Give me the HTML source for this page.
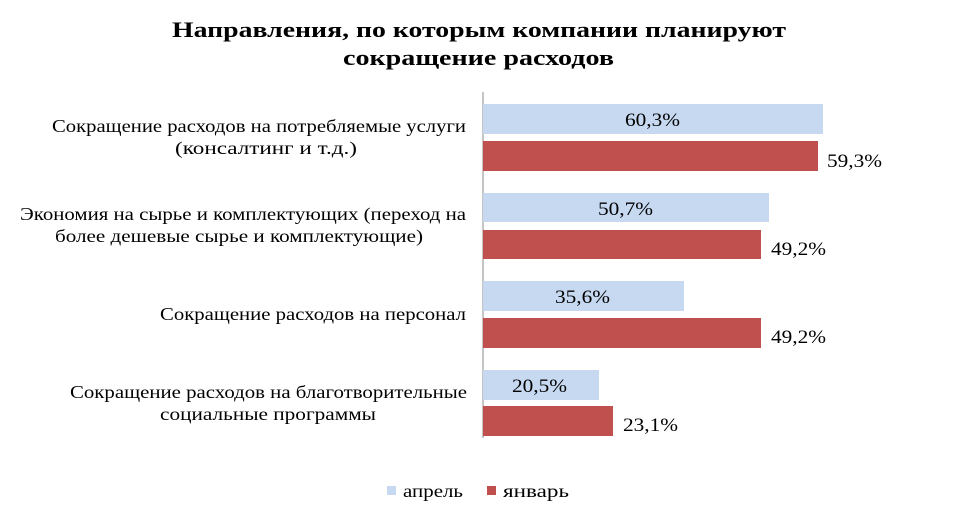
<!DOCTYPE html>
<html><head><meta charset="utf-8"><style>
html,body{margin:0;padding:0;background:#fff;}
svg{display:block;font-family:"Liberation Serif",serif;}
</style></head><body>
<svg width="958" height="525" xmlns="http://www.w3.org/2000/svg">
<rect width="958" height="525" fill="#fff"/>
<text x="172" y="37" font-size="22" font-weight="bold" fill="#000" textLength="614" lengthAdjust="spacingAndGlyphs">Направления, по которым компании планируют</text>
<text x="343" y="65" font-size="22" font-weight="bold" fill="#000" textLength="271" lengthAdjust="spacingAndGlyphs">сокращение расходов</text>
<line x1="483" y1="92" x2="483" y2="438" stroke="#888" stroke-width="1"/>
<g fill="#C6D9F1">
<rect x="483" y="104" width="340" height="30"/>
<rect x="483" y="193" width="286" height="29"/>
<rect x="483" y="281" width="201" height="30"/>
<rect x="483" y="370" width="116" height="30"/>
</g>
<g fill="#C0504D">
<rect x="483" y="141" width="335" height="30"/>
<rect x="483" y="230" width="278" height="29"/>
<rect x="483" y="318" width="278" height="30"/>
<rect x="483" y="406" width="130" height="30"/>
</g>
<g font-size="19" fill="#000">
<text x="625" y="126" textLength="55" lengthAdjust="spacingAndGlyphs">60,3%</text>
<text x="598" y="215" textLength="55" lengthAdjust="spacingAndGlyphs">50,7%</text>
<text x="555" y="303" textLength="55" lengthAdjust="spacingAndGlyphs">35,6%</text>
<text x="512" y="392" textLength="55" lengthAdjust="spacingAndGlyphs">20,5%</text>
<text x="827" y="167" textLength="55" lengthAdjust="spacingAndGlyphs">59,3%</text>
<text x="771" y="255" textLength="55" lengthAdjust="spacingAndGlyphs">49,2%</text>
<text x="771" y="343" textLength="55" lengthAdjust="spacingAndGlyphs">49,2%</text>
<text x="623" y="431" textLength="55" lengthAdjust="spacingAndGlyphs">23,1%</text>
</g>
<g font-size="18" fill="#000">
<text x="52" y="132" textLength="414" lengthAdjust="spacingAndGlyphs">Сокращение расходов на потребляемые услуги</text>
<text x="175" y="154" textLength="182" lengthAdjust="spacingAndGlyphs">(консалтинг и т.д.)</text>
<text x="20" y="220" textLength="446" lengthAdjust="spacingAndGlyphs">Экономия на сырье и комплектующих (переход на</text>
<text x="55" y="242" textLength="368" lengthAdjust="spacingAndGlyphs">более дешевые сырье и комплектующие)</text>
<text x="160" y="320" textLength="306" lengthAdjust="spacingAndGlyphs">Сокращение расходов на персонал</text>
<text x="70" y="398" textLength="397" lengthAdjust="spacingAndGlyphs">Сокращение расходов на благотворительные</text>
<text x="160" y="420" textLength="216" lengthAdjust="spacingAndGlyphs">социальные программы</text>
</g>
<rect x="387" y="486" width="9" height="9" fill="#C6D9F1"/>
<text x="403" y="497" font-size="18" textLength="60" lengthAdjust="spacingAndGlyphs">апрель</text>
<rect x="487" y="486" width="9" height="9" fill="#C0504D"/>
<text x="503" y="497" font-size="18" textLength="66" lengthAdjust="spacingAndGlyphs">январь</text>
</svg>
</body></html>
